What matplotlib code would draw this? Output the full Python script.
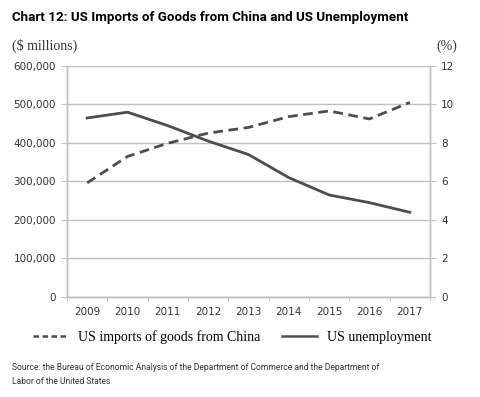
import matplotlib.pyplot as plt
import numpy as np
from matplotlib.lines import Line2D

years = ["2009", "2010", "2011", "2012", "2013", "2014", "2015", "2016", "2017"]
imports_china = [296374, 364953, 399371, 425619, 440430, 468475, 483202, 462420, 505470]
unemployment = [9.3, 9.6, 8.9, 8.1, 7.4, 6.2, 5.3, 4.9, 4.4]

left_ticks = [0, 100000, 200000, 300000, 400000, 500000, 600000]
right_ticks = [0, 2, 4, 6, 8, 10, 12]

LINE = "#4d4d4d"
GRID = "#c0c0c0"
SERIF = ["Liberation Serif", "DejaVu Serif"]
SANS = ["DejaVu Sans"]
NARROW = ["Roboto", "DejaVu Sans"]

fig = plt.figure(figsize=(4.8, 3.97), dpi=100)
ax = fig.add_axes([0.1396, 0.2519, 0.7562, 0.5819])
ax2 = ax.twinx()

x = np.arange(len(years))
ax.plot(x, imports_china, color=LINE, lw=2.0, ls=(0, (3.5, 2)))
ax2.plot(x, unemployment, color=LINE, lw=2.0)

ax.set_xlim(-0.5, len(years) - 0.5)
ax.set_ylim(0, 600000)
ax2.set_ylim(0, 12)
ax.set_yticks(left_ticks)
ax.set_yticklabels([f"{v:,}" for v in left_ticks], fontsize=7.5, color="#333333", family=SANS)
ax2.set_yticks(right_ticks)
ax2.set_yticklabels([str(v) for v in right_ticks], fontsize=7.5, color="#333333", family=SANS)

ax.set_xticks(x)
ax.set_xticklabels(years, fontsize=7.5, color="#333333", family=SANS)
ax.set_xticks(np.arange(-0.5, len(years)), minor=True)
ax.tick_params(axis="x", which="major", length=0, pad=7)
ax.tick_params(axis="x", which="minor", length=3, color=GRID)
ax.tick_params(axis="y", length=4, color=GRID, pad=4)
ax2.tick_params(axis="y", length=4, color=GRID, pad=4)

ax.grid(axis="y", color=GRID, lw=1.0)
ax.set_axisbelow(True)
for a in (ax, ax2):
    a.spines["top"].set_visible(False)
    for s in ("left", "right", "bottom"):
        a.spines[s].set_color(GRID)
        a.spines[s].set_linewidth(1.0)

fig.text(12 / 480, 1 - 18 / 397, "Chart 12: US Imports of Goods from China and US Unemployment",
         fontsize=9.6, fontweight="bold", va="center", ha="left", family=NARROW)
fig.text(12 / 480, 1 - 46 / 397, "($ millions)", fontsize=10, va="center", ha="left",
         family=SERIF, color="#333333")
fig.text(457 / 480, 1 - 46 / 397, "(%)", fontsize=10, va="center", ha="right",
         family=SERIF, color="#333333")

# legend proxies: the short dashes of the printed key
h1 = Line2D([], [], color=LINE, lw=1.8, ls=(0, (2.2, 1.4)))
h2 = Line2D([], [], color=LINE, lw=1.8)
fig.legend([h1, h2], ["US imports of goods from China", "US unemployment"],
           loc="center", bbox_to_anchor=(0.484, 1 - 337 / 397), ncol=2, frameon=False,
           prop={"family": SERIF, "size": 10}, handlelength=2.5, columnspacing=1.6,
           handletextpad=0.7)

fig.text(12 / 480, 1 - 368 / 397,
         "Source: the Bureau of Economic Analysis of the Department of Commerce and the Department of",
         fontsize=6.15, va="center", ha="left", family=NARROW, color="#333333")
fig.text(12 / 480, 1 - 381 / 397, "Labor of the United States",
         fontsize=6.15, va="center", ha="left", family=NARROW, color="#333333")

fig.savefig("out.png", dpi=100)
